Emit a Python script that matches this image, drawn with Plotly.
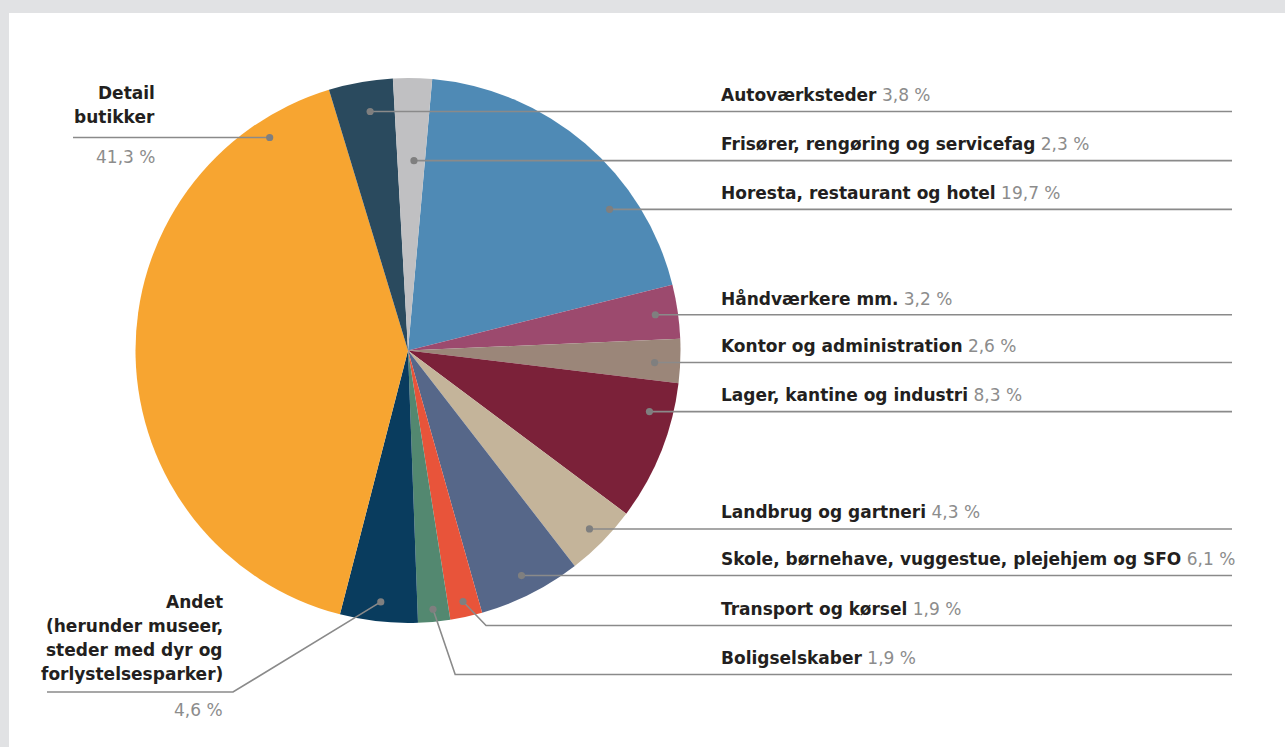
import math
import plotly.graph_objects as go

# ---------------- data ----------------
labels = [
    "Horesta, restaurant og hotel",
    "Håndværkere mm.",
    "Kontor og administration",
    "Lager, kantine og industri",
    "Landbrug og gartneri",
    "Skole, børnehave, vuggestue, plejehjem og SFO",
    "Transport og kørsel",
    "Boligselskaber",
    "Andet (herunder museer, steder med dyr og forlystelsesparker)",
    "Detail butikker",
    "Autoværksteder",
    "Frisører, rengøring og servicefag",
]
values = [19.7, 3.2, 2.6, 8.3, 4.3, 6.1, 1.9, 1.9, 4.6, 41.3, 3.8, 2.3]
colors = ["#4f8ab5", "#9c4a6e", "#9b8679", "#7b2139", "#c4b49a", "#566789",
          "#e8543a", "#538870", "#093c5e", "#f7a531", "#2a4a5e", "#c0c0c2"]

# display text for the wrapped left-hand labels
label_lines = {
    8: ["Andet", "(herunder museer,", "steder med dyr og", "forlystelsesparker)"],
    9: ["Detail", "butikker"],
}

# ---------------- layout / geometry ----------------
W, H = 1285, 747
CX, CY, R = 408.0, 350.5, 272.5
ROTATION = 5.1
FONT = "DejaVu Sans"
LINE_COL = "#8a8a8a"
DOT_COL = "#7f7f7f"
VAL_COL = "#8c8c8c"
TXT_COL = "#231f20"
FS = 17
LINE_GAP = 24

def px(x):
    return x / W

def py(y):
    return 1 - y / H

def fmt(v):
    return f"{v:.1f}".replace(".", ",") + " %"

total = sum(values)
starts = []
acc = ROTATION
for v in values:
    starts.append(acc)
    acc += v / total * 360.0
mids = [s + v / total * 180.0 for s, v in zip(starts, values)]

# dot placement: angle (deg clockwise from 12 o'clock) and radius fraction
dot_angle = list(mids)
dot_angle[0] = 55.0      # Horesta
dot_angle[2] = 92.8      # Kontor
dot_angle[3] = 104.2     # Lager
dot_angle[9] = 327.0     # Detail
dot_angle[10] = -9.0     # Autoværksteder
dot_angle[11] = 1.8      # Frisører
dot_rf = [0.903, 0.917, 0.906, 0.914, 0.934, 0.925, 0.943, 0.954, 0.928, 0.932, 0.888, 0.697]

dots = []
for a, rf in zip(dot_angle, dot_rf):
    t = math.radians(a)
    dots.append((CX + rf * R * math.sin(t), CY - rf * R * math.cos(t)))

fig = go.Figure()
fig.add_trace(go.Pie(
    labels=labels, values=values, sort=False, direction="clockwise",
    rotation=ROTATION, textinfo="none", hoverinfo="label+value",
    marker=dict(colors=colors, line=dict(width=0)),
    domain=dict(x=[px(CX - R), px(CX + R)], y=[py(CY + R), py(CY - R)]),
    showlegend=False,
))

shapes = []
annotations = []

# background panel
shapes.append(dict(type="rect", xref="paper", yref="paper", layer="below",
                   x0=px(9), x1=1.0, y0=0.0, y1=py(13),
                   fillcolor="white", line=dict(width=0)))

LINE_END = 1232
TEXT_X = 719

def polyline(pts):
    d = "M " + " L ".join(f"{px(x)},{py(y)}" for x, y in pts)
    shapes.append(dict(type="path", xref="paper", yref="paper", layer="above",
                       path=d, line=dict(color=LINE_COL, width=1.6)))

def text(x, y, s, anchor, color=TXT_COL):
    annotations.append(dict(xref="paper", yref="paper", x=px(x), y=py(y),
                            xanchor=anchor, yanchor="middle", showarrow=False,
                            text=s, font=dict(family=FONT, size=FS, color=color)))

# right-side labels: index -> line y (None = straight from dot)
right = {10: None, 11: None, 0: None, 1: None, 2: None, 3: None,
         4: None, 5: None, 6: 625.5, 7: 674.5}
for i, ly in right.items():
    dx, dy = dots[i]
    if ly is None:
        ly = dy
        polyline([(dx, dy), (LINE_END, dy)])
    else:
        elbow_x = dx + (ly - dy) * (0.96 if i == 6 else 0.34)
        polyline([(dx, dy), (elbow_x, ly), (LINE_END, ly)])
    text(TEXT_X, ly - 16.5,
         f"<b>{labels[i]}</b> <span style='color:{VAL_COL}'>{fmt(values[i])}</span>",
         "left")

# Detail (left, top)
dx, dy = dots[9]
polyline([(73, dy), (dx, dy)])
for k, s in enumerate(label_lines[9]):
    text(157, 93 + k * LINE_GAP, f"<b>{s}</b>", "right")
text(157, dy + 19, fmt(values[9]), "right", VAL_COL)

# Andet (left, bottom)
dx, dy = dots[8]
ly = 692
polyline([(dx, dy), (233, ly), (47, ly)])
for k, s in enumerate(label_lines[8]):
    text(225, 601.5 + k * LINE_GAP, f"<b>{s}</b>", "right")
text(225, ly + 18, fmt(values[8]), "right", VAL_COL)

# dots
for (dx, dy) in dots:
    r = 3.6
    shapes.append(dict(type="circle", xref="paper", yref="paper", layer="above",
                       x0=px(dx - r), x1=px(dx + r), y0=py(dy + r), y1=py(dy - r),
                       fillcolor=DOT_COL, line=dict(width=0)))

fig.update_layout(
    width=W, height=H,
    margin=dict(l=0, r=0, t=0, b=0),
    paper_bgcolor="#e1e2e4",
    plot_bgcolor="rgba(0,0,0,0)",
    shapes=shapes,
    annotations=annotations,
    font=dict(family=FONT),
)

fig.write_html("out.html", config={"displayModeBar": False},
               post_script="document.body.style.margin='0';document.body.style.overflow='hidden';")
